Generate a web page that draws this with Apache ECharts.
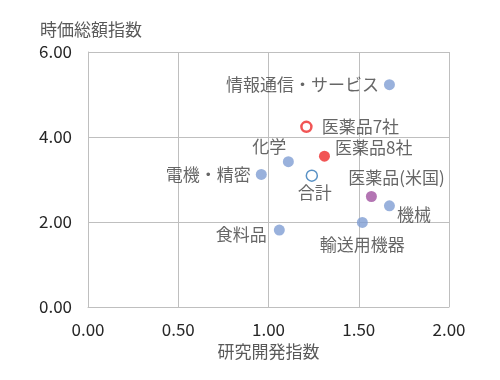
<!DOCTYPE html>
<html><head><meta charset="utf-8">
<script src="https://cdn.jsdelivr.net/npm/echarts@6/dist/echarts.min.js"></script>
<style>html,body{margin:0;padding:0;background:#fff}#c{width:500px;height:380px}</style>
</head><body><div id="c"></div>
<script>
// Data
const categories = ['情報通信・サービス','医薬品7社','医薬品8社','化学','電機・精密','合計','医薬品(米国)','機械','輸送用機器','食料品'];
const rdIndex    = [1.67, 1.21, 1.31, 1.11, 0.96, 1.24, 1.57, 1.67, 1.52, 1.06];
const mcapIndex  = [5.23, 4.24, 3.55, 3.42, 3.12, 3.09, 2.60, 2.38, 1.99, 1.81];
const groups     = ['sector','pharma7','pharma8','sector','sector','total','pharmaUS','sector','sector','sector'];
const xTicks = [0, 0.5, 1, 1.5, 2];
const yTicks = [0, 2, 4, 6];
const xName = '研究開発指数';
const yName = '時価総額指数';

// Styles (not data)
const FONT = '"Noto Sans CJK JP", "Noto Sans", sans-serif';
const groupStyle = {
  sector:   {symbolSize: 11, itemStyle: {color: '#7F9ED3', borderWidth: 0}},
  pharma8:  {symbolSize: 11, itemStyle: {color: '#EE2A2A', borderWidth: 0}},
  pharma7:  {symbolSize: 10, itemStyle: {color: '#ffffff', borderColor: '#EE2A2A', borderWidth: 2.5}},
  total:    {symbolSize: 11, itemStyle: {color: '#ffffff', borderColor: '#2E75B6', borderWidth: 1.5}},
  pharmaUS: {symbolSize: 11, itemStyle: {color: '#A052A0', borderWidth: 0}}
};
const labelStyle = {
  '情報通信・サービス': {position: 'left', offset: [0, 0]},
  '医薬品7社': {position: 'right', offset: [4, 0]},
  '医薬品8社': {position: 'right', offset: [0, -9]},
  '化学': {position: 'top', offset: [-19, 4]},
  '電機・精密': {position: 'left', offset: [0, 0]},
  '合計': {position: 'bottom', offset: [3, -3]},
  '医薬品(米国)': {position: 'top', offset: [25, 0]},
  '機械': {position: 'right', offset: [-3, 9]},
  '輸送用機器': {position: 'bottom', offset: [0, 3]},
  '食料品': {position: 'left', offset: [-2, 4]}
};

const seriesData = categories.map((name, i) => {
  const g = groupStyle[groups[i]];
  const l = labelStyle[name];
  return {
    name: name,
    value: [rdIndex[i], mcapIndex[i]],
    symbolSize: g.symbolSize,
    itemStyle: g.itemStyle,
    label: {show: true, formatter: name, position: l.position, offset: l.offset, distance: 5}
  };
});

const chart = echarts.init(document.getElementById('c'), null, {renderer: 'canvas'});
chart.setOption({
  animation: false,
  textStyle: {fontFamily: FONT},
  grid: {left: 88, right: 51, top: 52, bottom: 73, containLabel: false, outerBoundsMode: 'none'},
  xAxis: {
    type: 'value', min: xTicks[0], max: xTicks[xTicks.length - 1], interval: xTicks[1] - xTicks[0],
    name: xName, nameLocation: 'middle', nameGap: 31,
    nameTextStyle: {fontSize: 17, color: '#595959', fontFamily: FONT},
    axisLine: {show: true, lineStyle: {color: '#BFBFBF', width: 1}},
    axisTick: {show: false},
    splitLine: {show: true, lineStyle: {color: '#BFBFBF', width: 1}},
    axisLabel: {fontSize: 17, color: '#262626', margin: 14, fontFamily: FONT, formatter: v => v.toFixed(2)}
  },
  yAxis: {
    type: 'value', min: yTicks[0], max: yTicks[yTicks.length - 1], interval: yTicks[1] - yTicks[0],
    name: yName, nameLocation: 'end', nameGap: 14,
    nameTextStyle: {fontSize: 17, color: '#595959', fontFamily: FONT, align: 'left', padding: [0, 0, 0, -48]},
    axisLine: {show: true, lineStyle: {color: '#BFBFBF', width: 1}},
    axisTick: {show: false},
    splitLine: {show: true, lineStyle: {color: '#BFBFBF', width: 1}},
    axisLabel: {fontSize: 17, color: '#262626', margin: 16, fontFamily: FONT, formatter: v => v.toFixed(2)}
  },
  series: [{
    type: 'scatter',
    data: seriesData,
    label: {fontSize: 17, color: '#404040', fontFamily: FONT},
    emphasis: {disabled: true}
  }]
});
</script></body></html>
